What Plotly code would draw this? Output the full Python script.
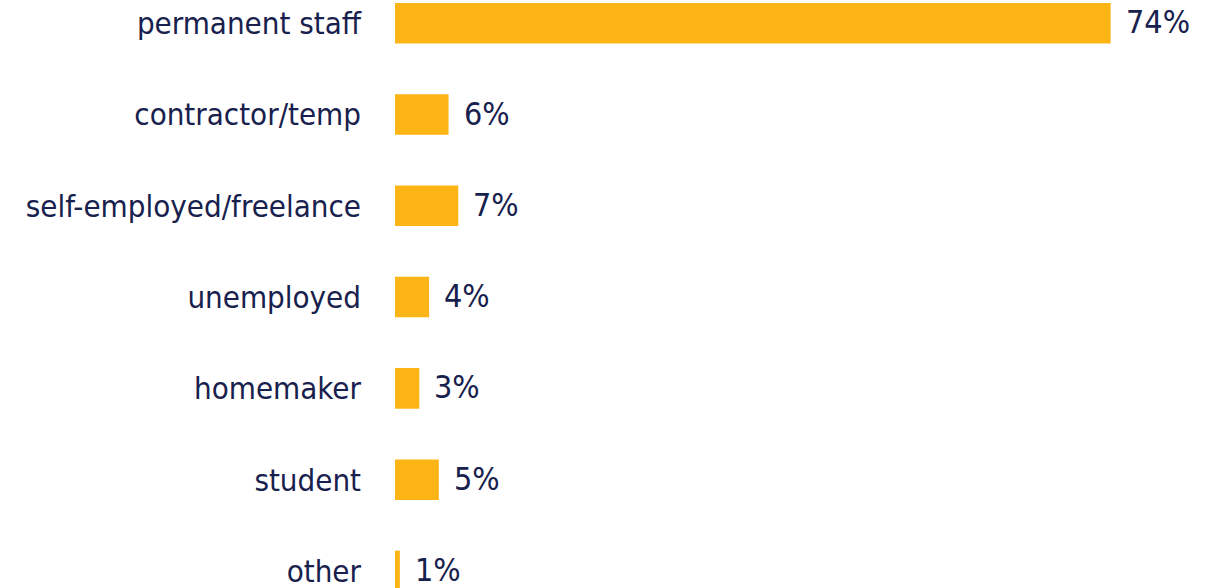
import plotly.graph_objects as go

# Employment status breakdown (share of respondents, %)
categories = [
    "permanent staff",
    "contractor/temp",
    "self-employed/freelance",
    "unemployed",
    "homemaker",
    "student",
    "other",
]
shares = [74, 6, 7, 4, 3, 5, 1]

BAR_COLOR = "#FDB515"
TEXT_COLOR = "#18214D"
FONT = "DejaVu Sans Condensed, DejaVu Sans, sans-serif"

fig = go.Figure(
    go.Bar(
        x=shares,
        y=categories,
        orientation="h",
        marker=dict(color=BAR_COLOR, line=dict(width=0)),
        width=0.444,
        hoverinfo="skip",
    )
)

# value labels placed just past the end of each bar
for cat, val in zip(categories, shares):
    fig.add_annotation(
        x=val,
        y=cat,
        text=f"{val}%",
        showarrow=False,
        xanchor="left",
        yanchor="middle",
        xshift=14,
        yshift=1,
        borderpad=0,
        font=dict(family=FONT, size=32, color=TEXT_COLOR),
    )

fig.update_layout(
    width=1209,
    height=588,
    margin=dict(l=395, r=0, t=0, b=0),
    paper_bgcolor="white",
    plot_bgcolor="white",
    showlegend=False,
    xaxis=dict(
        range=[0.5, 84.1],
        visible=False,
        fixedrange=True,
    ),
    yaxis=dict(
        type="category",
        categoryorder="array",
        categoryarray=categories,
        range=[6.187, -0.255],
        showgrid=False,
        zeroline=False,
        showline=False,
        ticks="",
        ticklabelstandoff=33,
        tickfont=dict(family=FONT, size=31, color=TEXT_COLOR),
        fixedrange=True,
    ),
)

fig.write_html("out.html")
